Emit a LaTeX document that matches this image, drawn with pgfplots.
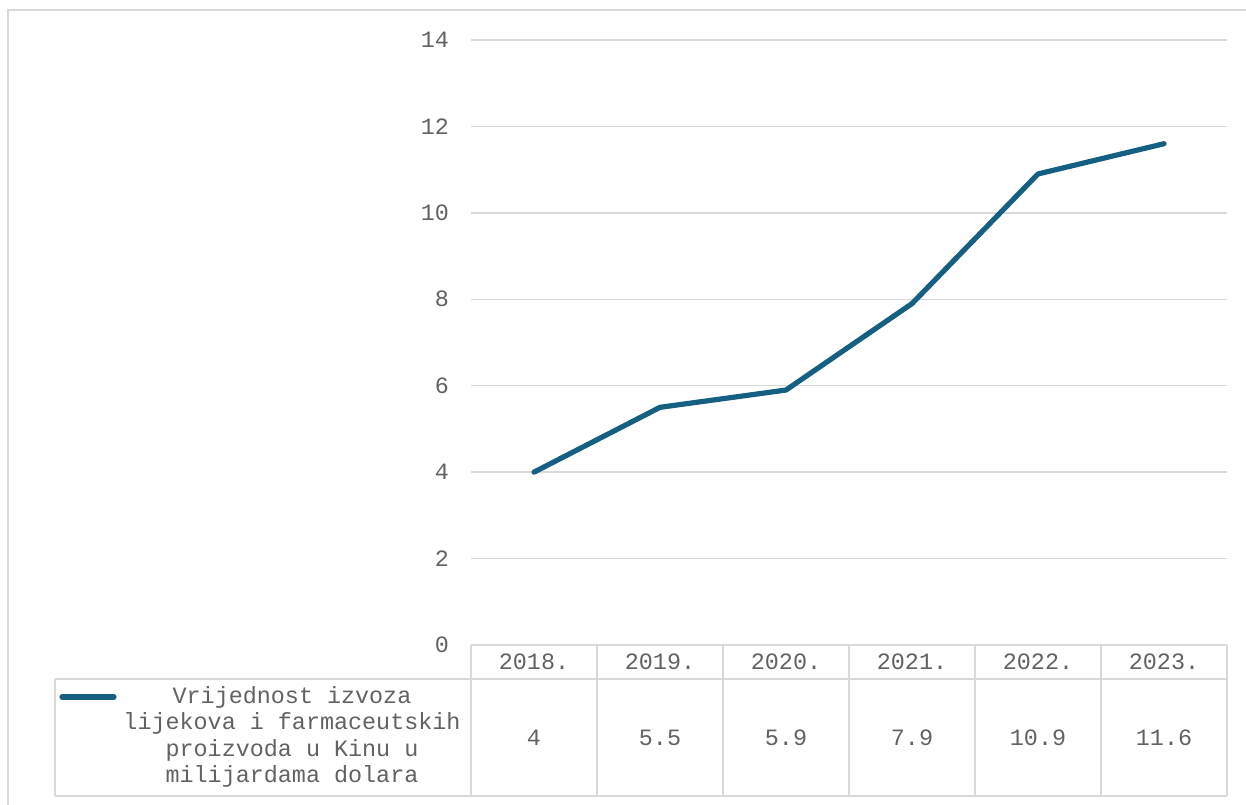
\documentclass[border=0pt]{standalone}
\usepackage{pgfplots}
\pgfplotsset{compat=1.18}
\usepackage{fontspec}
\setmainfont{Liberation Mono}
\definecolor{lineblue}{HTML}{156082}
\definecolor{gridgray}{HTML}{D9D9D9}
\definecolor{txtgray}{HTML}{626262}
\begin{document}
\begin{tikzpicture}
\clip (0,0) rectangle (623pt,402pt);
\useasboundingbox (0,0) rectangle (623pt,402pt);
\begin{axis}[
  at={(235.5pt,79.5pt)}, anchor=south west,
  scale only axis, width=378pt, height=302.5pt,
  xmin=-0.5, xmax=5.5, ymin=0, ymax=14,
  ytick={0,2,...,14}, xtick=\empty,
  axis line style={draw=none},
  ymajorgrids, grid style={gridgray, line width=0.75pt},
  major tick length=0pt,
  tick label style={font=\fontsize{11.7}{14}\selectfont, text=txtgray},
  yticklabel style={xshift=-7.5pt},
  /pgf/number format/assume math mode=true,
  clip=false,
]
\addplot[lineblue, line width=2.6pt, line cap=round, line join=round] coordinates {
  (0,4) (1,5.5) (2,5.9) (3,7.9) (4,10.9) (5,11.6)
};
\end{axis}
\begin{scope}[x=0.5pt, y=-0.5pt, shift={(0,402pt)}]
  % outer chart border
  \draw[gridgray, line width=0.75pt] (8,820) -- (8,10) -- (1260,10);
  % table grid
  \draw[gridgray, line width=0.9pt] (471,645) -- (1227,645);
  \draw[gridgray, line width=0.9pt] (55,679) -- (1227,679);
  \draw[gridgray, line width=0.9pt] (55,796) -- (1227,796);
  \draw[gridgray, line width=0.9pt] (55,679) -- (55,796);
  \foreach \xx in {471,597,723,849,975,1101,1227}
    \draw[gridgray, line width=0.9pt] (\xx,645) -- (\xx,796);
  % header and values
  \foreach \xx/\yr/\v in {534/2018./4, 660/2019./5.5, 786/2020./5.9, 912/2021./7.9, 1038/2022./10.9, 1164/2023./11.6} {
    \node[text=txtgray, font=\fontsize{11.7}{14}\selectfont, inner sep=0] at (\xx,662) {\yr};
    \node[text=txtgray, font=\fontsize{11.7}{14}\selectfont, inner sep=0] at (\xx,738) {\v};
  }
  % legend
  \draw[lineblue, line width=2.6pt, line cap=round] (62,697) -- (114,697);
  \node[text=txtgray, font=\fontsize{11.7}{13.3}\selectfont, align=center, inner sep=0] at (292,737)
    {Vrijednost izvoza\\lijekova i farmaceutskih\\proizvoda u Kinu u\\milijardama dolara};
\end{scope}
\end{tikzpicture}
\end{document}
